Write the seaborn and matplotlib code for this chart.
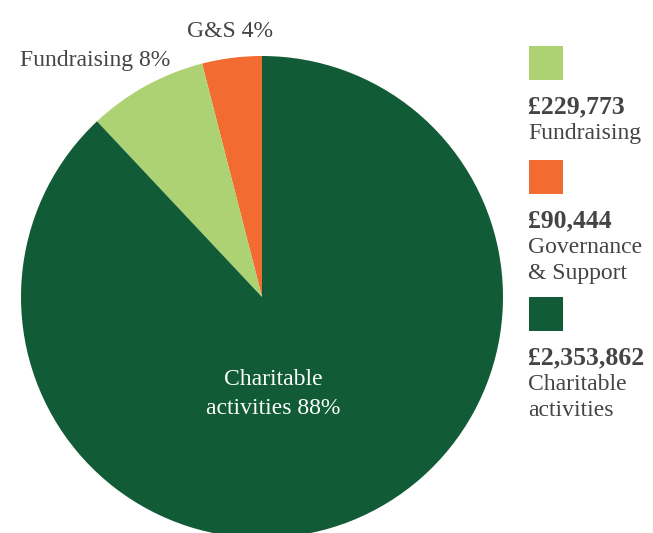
import matplotlib
matplotlib.use("Agg")
import matplotlib.pyplot as plt
import seaborn as sns

# --- Data ---
categories = ["G&S", "Fundraising", "Charitable activities"]
shares = [4, 8, 88]
amounts = ["£229,773", "£90,444", "£2,353,862"]
legend_names = [["Fundraising"], ["Governance", "& Support"], ["Charitable", "activities"]]
colors = ["#F26B30", "#ADD274", "#115C36"]
legend_colors = ["#ADD274", "#F26B30", "#115C36"]

sns.set_theme(style="white")
plt.rcParams['font.family'] = ['Liberation Serif', 'DejaVu Serif']
text_col = "#444444"

W, H = 653, 533
fig = plt.figure(figsize=(W / 100, H / 100), dpi=100)

# pie placed in pixel coords: centre (262, 297), radius 241
cx, cy, r = 262, 297, 241
ax = fig.add_axes([(cx - r) / W, (H - cy - r) / H, 2 * r / W, 2 * r / H])
ax.pie(shares, colors=colors, startangle=90, counterclock=True,
       radius=1, wedgeprops=dict(linewidth=0))
ax.set_xlim(-1, 1)
ax.set_ylim(-1, 1)
ax.set_aspect("equal")
ax.axis("off")


def px(x, y):
    return x / W, 1 - y / H


fs = 17
fig.text(*px(230, 37), "G&S 4%", ha="center", va="baseline", fontsize=fs, color=text_col)
fig.text(*px(95, 66), "Fundraising 8%", ha="center", va="baseline", fontsize=fs, color=text_col)
fig.text(*px(273, 385), "Charitable", ha="center", va="baseline", fontsize=fs, color="white")
fig.text(*px(273, 414), "activities 88%", ha="center", va="baseline", fontsize=fs, color="white")

# --- Legend ---
box_tops = [46, 160, 297]
for top, col, amt, names in zip(box_tops, legend_colors, amounts, legend_names):
    fig.patches.append(plt.Rectangle(px(529, top + 34), 34 / W, 34 / H,
                                     transform=fig.transFigure, color=col, lw=0))
    base = top + 67
    fig.text(*px(528, base), amt, ha="left", va="baseline", fontsize=18.5,
             fontweight="bold", color=text_col)
    for i, name in enumerate(names):
        fig.text(*px(528, base + 26 * (i + 1)), name, ha="left", va="baseline",
                 fontsize=fs, color=text_col)

fig.savefig("out.png", dpi=100)
